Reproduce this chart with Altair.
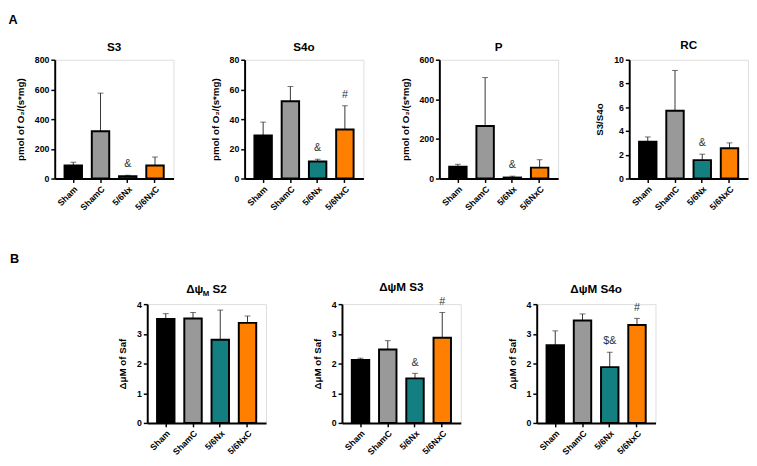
import altair as alt
import pandas as pd

groups = ["Sham", "ShamC", "5/6Nx", "5/6NxC"]
colors = ["#000000", "#999999", "#137f80", "#ff8000"]

s3_mean = [88, 318, 15, 88]
s3_upper = [110, 575, 22, 145]
s3_marks = ["", "", "&", ""]

s4o_mean = [29, 52, 11.5, 33]
s4o_upper = [38, 62, 13, 49]
s4o_marks = ["", "", "&", "#"]

p_mean = [60, 265, 5, 55]
p_upper = [72, 510, 12, 95]
p_marks = ["", "", "&", ""]

rc_mean = [3.1, 5.7, 1.55, 2.55]
rc_upper = [3.5, 9.1, 2.05, 3.0]
rc_marks = ["", "", "&", ""]

psi_s2_mean = [3.5, 3.52, 2.8, 3.37]
psi_s2_upper = [3.68, 3.72, 3.8, 3.6]
psi_s2_marks = ["", "", "", ""]

psi_s3_mean = [2.12, 2.47, 1.5, 2.87]
psi_s3_upper = [2.18, 2.77, 1.67, 3.72]
psi_s3_marks = ["", "", "&", "#"]

psi_s4o_mean = [2.62, 3.45, 1.88, 3.3]
psi_s4o_upper = [3.1, 3.67, 2.38, 3.52]
psi_s4o_marks = ["", "", "$&", "#"]

FONT = "Liberation Sans"
W = 122
H = 122


def panel(title, ytitle, mean, upper, marks, ymax, ystep, sub_title=None):
    df = pd.DataFrame({"group": groups, "mean": mean, "upper": upper, "mark": marks})
    x = alt.X(
        "group:N", sort=groups, title=None,
        scale=alt.Scale(paddingInner=0.36, paddingOuter=0.36),
        axis=alt.Axis(labelAngle=-45, labelFontWeight="bold", labelFontSize=9,
                      labelFont=FONT, labelColor="black", domainColor="black",
                      domainWidth=2, tickColor="black", tickWidth=1.5, tickSize=4,
                      labelPadding=2),
    )
    ticks = []
    v = 0
    while v <= ymax + 1e-9:
        ticks.append(round(v, 6))
        v += ystep
    yscale = alt.Scale(domain=[0, ymax], nice=False)
    yaxis = alt.Axis(values=ticks, labelFontWeight="bold", labelFontSize=9,
                     labelFont=FONT, labelColor="black", domainColor="black",
                     domainWidth=2, tickColor="black", tickWidth=1.5, tickSize=4,
                     titleFont=FONT, titleFontWeight="bold", titleFontSize=10,
                     titleColor="black", labelPadding=2, titlePadding=9, grid=False,
                     labelOverlap=False, format="d")
    base = alt.Chart(df).encode(x=x)
    err = base.mark_rule(color="#333333", strokeWidth=1).encode(
        y=alt.Y("mean:Q", title=ytitle, scale=yscale, axis=yaxis), y2="upper:Q")
    cap = base.mark_tick(color="#333333", thickness=1, size=6).encode(
        y=alt.Y("upper:Q", title=ytitle, scale=yscale, axis=yaxis))
    bars = base.mark_bar(stroke="black", strokeWidth=2).encode(
        y=alt.Y("mean:Q", title=ytitle, scale=yscale, axis=yaxis),
        color=alt.Color("group:N", scale=alt.Scale(domain=groups, range=colors), legend=None),
    )
    txt = base.mark_text(dy=-6, baseline="bottom", font=FONT, fontSize=11, color="#333333").encode(
        y=alt.Y("upper:Q", title=ytitle, scale=yscale, axis=yaxis), text="mark:N")
    layers = [err, cap, bars, txt]
    props = dict(width=W, height=H)
    if sub_title is None:
        props["title"] = alt.TitleParams(title, font=FONT, fontSize=12, fontWeight="bold",
                                         color="black", offset=2)
    else:
        main, sub, rest = sub_title
        one = pd.DataFrame({"k": [0]})
        t1 = alt.Chart(one).mark_text(align="left", baseline="alphabetic", font=FONT, fontSize=12,
                                      fontWeight="bold", color="black").encode(
            x=alt.value(W / 2 - 21), y=alt.value(-11), text=alt.value(main))
        t2 = alt.Chart(one).mark_text(align="left", baseline="alphabetic", font=FONT, fontSize=8,
                                      fontWeight="bold", color="black").encode(
            x=alt.value(W / 2 - 4), y=alt.value(-8), text=alt.value(sub))
        t3 = alt.Chart(one).mark_text(align="left", baseline="alphabetic", font=FONT, fontSize=12,
                                      fontWeight="bold", color="black").encode(
            x=alt.value(W / 2 + 6), y=alt.value(-11), text=alt.value(rest))
        layers += [t1, t2, t3]
    return alt.layer(*layers).properties(**props)


ytitle_o2 = "pmol of O\u2082/(s*mg)"
ytitle_saf = "\u0394\u03bcM of Saf"

rowA = alt.hconcat(
    panel("S3", ytitle_o2, s3_mean, s3_upper, s3_marks, 800, 200),
    panel("S4o", ytitle_o2, s4o_mean, s4o_upper, s4o_marks, 80, 20),
    panel("P", ytitle_o2, p_mean, p_upper, p_marks, 600, 200),
    panel("RC", "S3/S4o", rc_mean, rc_upper, rc_marks, 10, 2),
    spacing=36,
    title=alt.TitleParams("A", anchor="start", font=FONT, fontSize=13, fontWeight="bold",
                          color="black", offset=12, dx=-7),
)

spacer = alt.Chart(pd.DataFrame({"k": [0]})).mark_text(
    align="left", baseline="alphabetic", font=FONT, fontSize=13, fontWeight="bold", color="black"
).encode(x=alt.value(-46), y=alt.value(-42), text=alt.value("B")).properties(
    width=18, height=H, view=alt.ViewBackground(stroke="transparent", strokeWidth=0))

rowB = alt.hconcat(
    spacer,
    panel("", ytitle_saf, psi_s2_mean, psi_s2_upper, psi_s2_marks, 4, 1,
          sub_title=("\u0394\u03c8", "M", "S2")),
    panel("\u0394\u03c8M S3", ytitle_saf, psi_s3_mean, psi_s3_upper, psi_s3_marks, 4, 1),
    panel("\u0394\u03c8M S4o", ytitle_saf, psi_s4o_mean, psi_s4o_upper, psi_s4o_marks, 4, 1),
    spacing=46,
)

chart = alt.vconcat(rowA, rowB, spacing=42).properties(
    padding={"left": 0, "top": 0, "right": 0, "bottom": 0}
).configure_view(strokeWidth=0, stroke="transparent").configure(background="white")

chart.save("out.html", embed_options={"renderer": "svg", "actions": False})
